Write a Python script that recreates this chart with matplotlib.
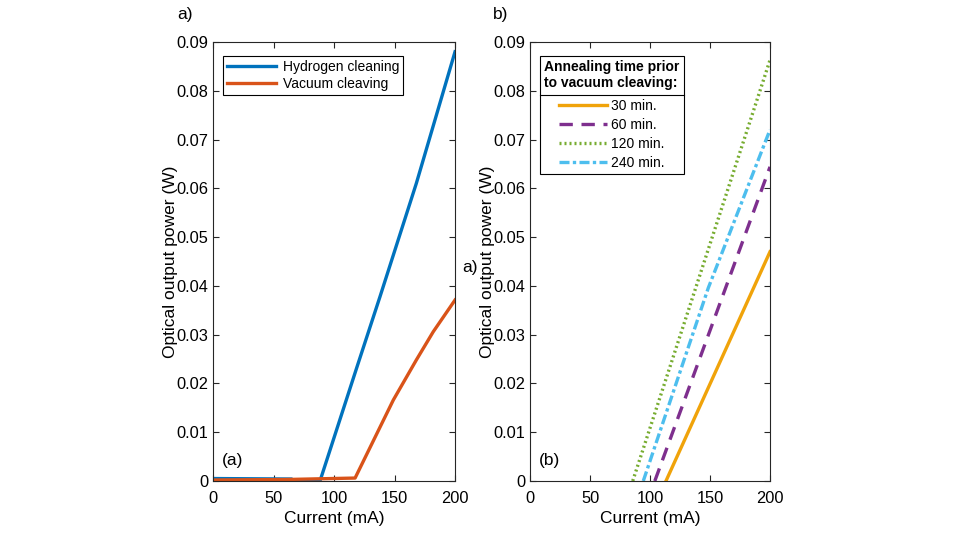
import matplotlib
matplotlib.use("Agg")
import matplotlib.pyplot as plt
from matplotlib.lines import Line2D

plt.rcParams['font.family'] = ['Liberation Sans', 'DejaVu Sans']

# ---- data ----
h_current = [0, 65, 66, 88.4, 119, 138, 168, 200]
h_power = [0.0005, 0.0004, 0.0, 0.0, 0.0234, 0.0378, 0.0610, 0.0880]

v_current = [0, 60, 117.4, 149, 168, 182, 200]
v_power = [0.0002, 0.0003, 0.0006, 0.0166, 0.0248, 0.0306, 0.0371]

c30_current = [113.3, 200]
c30_power = [0.0, 0.0470]
c60_current = [104, 200]
c60_power = [0.0, 0.0644]
c120_current = [85.6, 200]
c120_power = [0.0, 0.0863]
c240_current = [94.4, 148.6, 200]
c240_power = [0.0, 0.0396, 0.0720]

left_labels = ["Hydrogen cleaning", "Vacuum cleaving"]
right_labels = ["30 min.", "60 min.", "120 min.", "240 min."]
legend_title = "Annealing time prior\nto vacuum cleaving:"

yticks = [0, 0.01, 0.02, 0.03, 0.04, 0.05, 0.06, 0.07, 0.08, 0.09]
yticklabels = ["0", "0.01", "0.02", "0.03", "0.04", "0.05", "0.06", "0.07", "0.08", "0.09"]
xticks = [0, 50, 100, 150, 200]

BLUE = "#0072BD"
RED = "#D95319"
ORANGE = "#F0A30A"
PURPLE = "#7E2F8E"
GREEN = "#77AC30"
CYAN = "#4DBEEE"
AX = "#262626"

fig = plt.figure(figsize=(9.6, 5.4), dpi=100)
ax1 = fig.add_axes([0.2219, 0.1093, 0.2521, 0.8130])
ax2 = fig.add_axes([0.5521, 0.1093, 0.2500, 0.8130])

TFS = 11.8
LFS = 12.5
for ax in (ax1, ax2):
    ax.set_xlim(0, 200)
    ax.set_ylim(0, 0.09)
    ax.set_xticks(xticks)
    ax.set_yticks(yticks)
    ax.set_yticklabels(yticklabels)
    ax.tick_params(direction='in', top=True, right=True, labelsize=TFS,
                   length=4, width=0.8, colors=AX, labelcolor='black')
    ax.tick_params(axis='x', pad=7)
    for s in ax.spines.values():
        s.set_color(AX)
        s.set_linewidth(0.8)
    ax.set_xlabel("Current (mA)", fontsize=LFS, labelpad=4)
    ax.set_ylabel("Optical output power (W)", fontsize=LFS, labelpad=-1)

lw = 2.4
ax1.plot(h_current, h_power, color=BLUE, lw=lw, label=left_labels[0])
ax1.plot(v_current, v_power, color=RED, lw=lw, label=left_labels[1])
leg1 = ax1.legend(loc='upper left', bbox_to_anchor=(0.03, 0.975), fontsize=10,
                  frameon=True, fancybox=False, edgecolor='black', framealpha=1,
                  handlelength=3.5, handletextpad=0.5, borderpad=0.3, labelspacing=0.2,
                  borderaxespad=0.2)
leg1.get_frame().set_linewidth(0.8)
ax1.text(7, 0.0043, "(a)", fontsize=LFS, va='center', ha='left')

ax2.plot(c30_current, c30_power, color=ORANGE, lw=lw, ls='-', label=right_labels[0])
ax2.plot(c60_current, c60_power, color=PURPLE, lw=lw, ls=(0, (4, 2.6)), label=right_labels[1])
ax2.plot(c120_current, c120_power, color=GREEN, lw=lw, ls=(0, (0.6, 0.9)), label=right_labels[2])
ax2.plot(c240_current, c240_power, color=CYAN, lw=lw, ls=(0, (3, 1, 1, 1)), label=right_labels[3])
leg2 = ax2.legend(loc='upper left', bbox_to_anchor=(0.03, 0.975), fontsize=10,
                  title=legend_title, title_fontproperties={'weight': 'bold', 'size': 10},
                  frameon=True, fancybox=False, edgecolor='black', framealpha=1,
                  handlelength=3.5, handletextpad=0.3, borderpad=0.3, labelspacing=0.35,
                  borderaxespad=0.2)
leg2.get_frame().set_linewidth(0.8)
leg2._legend_box.sep = 6.5
ax2.text(7, 0.0043, "(b)", fontsize=LFS, va='center', ha='left')

fig.text(0.185, 0.974, "a)", fontsize=LFS, va='center', ha='left')
fig.text(0.513, 0.974, "b)", fontsize=LFS, va='center', ha='left')
fig.text(0.482, 0.504, "a)", fontsize=LFS, va='center', ha='left')

# separator line under the legend title
fig.canvas.draw()
renderer = fig.canvas.get_renderer()
tb = leg2.get_title().get_window_extent(renderer)
hb = leg2._legend_handle_box.get_window_extent(renderer)
fb = leg2.get_frame().get_window_extent(renderer)
ysep = 0.5 * (tb.y0 + hb.y1)
line = Line2D([fb.x0, fb.x1], [ysep, ysep], transform=None, color='black', lw=0.8)
fig.add_artist(line)

fig.savefig("out.png", dpi=100)
